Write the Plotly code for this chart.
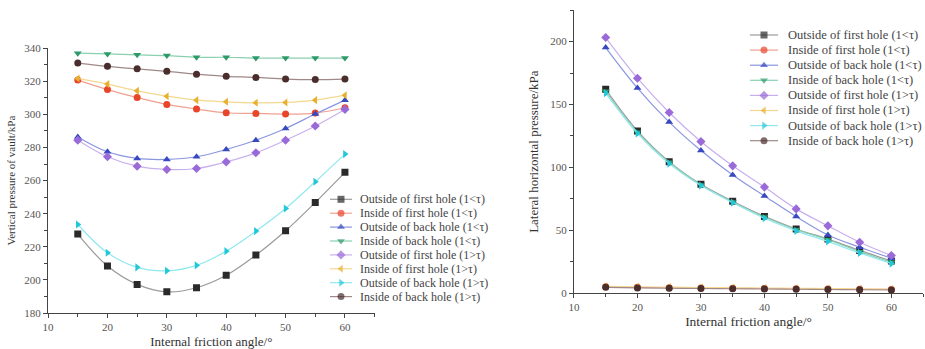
import plotly.graph_objects as go

x = [15, 20, 25, 30, 35, 40, 45, 50, 55, 60]

names = ["Outside of first hole (1<τ)", "Inside of first hole (1<τ)",
         "Outside of back hole (1<τ)", "Inside of back hole (1<τ)",
         "Outside of first hole (1>τ)", "Inside of first hole (1>τ)",
         "Outside of back hole (1>τ)", "Inside of back hole (1>τ)"]

# Left: vertical pressure of vault (kPa)
v_out_first_lt = [227.7, 208.4, 197.3, 192.8, 195.3, 202.8, 215.0, 229.7, 246.8, 265.0]
v_in_first_lt = [320.7, 315.0, 310.2, 306.0, 303.2, 301.0, 300.6, 300.2, 300.8, 304.0]
v_out_back_lt = [286.4, 277.4, 273.4, 272.8, 274.4, 278.8, 284.4, 291.5, 300.2, 308.6]
v_in_back_lt = [337.0, 336.5, 336.0, 335.5, 334.5, 334.5, 334.0, 334.0, 334.0, 334.0]
v_out_first_gt = [284.4, 274.4, 268.7, 266.7, 267.3, 271.3, 276.8, 284.4, 293.0, 303.0]
v_in_first_gt = [321.7, 318.3, 314.2, 311.0, 308.6, 307.6, 307.0, 307.2, 308.6, 311.6]
v_out_back_gt = [233.5, 216.4, 207.6, 205.5, 208.8, 217.4, 229.5, 243.2, 259.3, 276.0]
v_in_back_gt = [331.0, 329.0, 327.5, 326.0, 324.3, 323.0, 322.3, 321.3, 321.0, 321.3]

# Right: lateral horizontal pressure (kPa)
h_out_first_lt = [162.0, 129.0, 104.5, 86.5, 73.0, 61.0, 51.0, 43.0, 34.0, 25.5]
h_in_first_lt = [5.0, 4.6, 4.3, 4.1, 3.9, 3.7, 3.5, 3.3, 3.1, 3.0]
h_out_back_lt = [195.2, 163.0, 136.0, 113.4, 94.0, 77.3, 60.9, 46.3, 36.5, 27.8]
h_in_back_lt = [160.5, 128.0, 104.0, 86.0, 72.5, 60.5, 50.5, 42.5, 33.0, 24.5]
h_out_first_gt = [203.2, 170.9, 143.6, 120.5, 101.2, 84.3, 67.0, 53.5, 40.5, 29.9]
h_in_first_gt = [5.5, 5.1, 4.8, 4.5, 4.3, 4.1, 3.9, 3.7, 3.5, 3.3]
h_out_back_gt = [159.0, 127.0, 103.0, 85.5, 72.0, 59.5, 49.5, 41.0, 32.0, 23.5]
h_in_back_gt = [4.6, 4.2, 3.9, 3.7, 3.5, 3.3, 3.1, 2.9, 2.7, 2.5]

left_series = [v_out_first_lt, v_in_first_lt, v_out_back_lt, v_in_back_lt,
               v_out_first_gt, v_in_first_gt, v_out_back_gt, v_in_back_gt]
right_series = [h_out_first_lt, h_in_first_lt, h_out_back_lt, h_in_back_lt,
                h_out_first_gt, h_in_first_gt, h_out_back_gt, h_in_back_gt]

colors = ["#2a2a2a", "#e8452a", "#3848c0", "#2e9a6a",
          "#9a6ad8", "#e8b030", "#22c8d8", "#4a2e2e"]
line_colors = ["#9a9a9a", "#f0a090", "#8a96e0", "#8ad0b0",
               "#c8b0ee", "#f4d890", "#90e8f0", "#a08888"]
symbols = ["square", "circle", "triangle-up", "triangle-down",
           "diamond", "triangle-left", "triangle-right", "circle"]

FONT = "Liberation Serif, Times New Roman, serif"
W, H = 925, 349

fig = go.Figure()
for i in range(8):
    fig.add_trace(go.Scatter(
        x=x, y=left_series[i], name=names[i], mode="lines+markers",
        line=dict(color=line_colors[i], width=1.2, shape="spline"),
        marker=dict(symbol=symbols[i], size=7, color=colors[i]),
        xaxis="x", yaxis="y", showlegend=False))
for i in range(8):
    fig.add_trace(go.Scatter(
        x=x, y=right_series[i], name=names[i], mode="lines+markers",
        line=dict(color=line_colors[i], width=1.2, shape="spline"),
        marker=dict(symbol=symbols[i], size=7, color=colors[i]),
        xaxis="x2", yaxis="y2", showlegend=False))

# Custom compact legends (layout in pixel space on a hidden overlay axis)
legend_specs = [
    dict(x0=330, x1=352, tx=358, y0=199.3, dy=13.9, size=12),
    dict(x0=750, x1=778, tx=786, y0=35.0, dy=15.1, size=12.5),
]
annotations = []
for spec in legend_specs:
    for i in range(8):
        yy = spec["y0"] + spec["dy"] * i
        xm = (spec["x0"] + spec["x1"]) / 2
        fig.add_trace(go.Scatter(
            x=[spec["x0"], xm, spec["x1"]], y=[yy, yy, yy], mode="lines+markers",
            line=dict(color=line_colors[i], width=1.2),
            marker=dict(symbol=symbols[i], size=[0, 7, 0], color=colors[i], line=dict(width=0)),
            xaxis="x3", yaxis="y3", showlegend=False, hoverinfo="skip"))
        annotations.append(dict(
            x=spec["tx"] / W, y=1 - yy / H, xref="paper", yref="paper",
            text=names[i], showarrow=False, xanchor="left", yanchor="middle",
            font=dict(family=FONT, size=spec["size"], color="#444")))

axis_common = dict(showline=True, linecolor="#444", linewidth=1.2,
                   ticks="outside", ticklen=4, tickcolor="#444",
                   showgrid=False, zeroline=False, automargin=False,
                   tickfont=dict(family=FONT, size=11, color="#555"))

fig.update_layout(
    width=W, height=H,
    margin=dict(l=0, r=0, t=0, b=0),
    paper_bgcolor="white", plot_bgcolor="rgba(0,0,0,0)",
    font=dict(family=FONT, color="#333"),
    showlegend=False,
    annotations=annotations,
    xaxis=dict(domain=[0.052, 0.405], range=[10, 65], tick0=10, dtick=10,
               minor=dict(ticks="outside", dtick=5, ticklen=3, tickcolor="#444"),
               title=dict(text="Internal friction angle/°", font=dict(family=FONT, size=13, color="#333"), standoff=4),
               anchor="y", **axis_common),
    yaxis=dict(domain=[0.103, 0.862], range=[180, 340], tick0=180, dtick=20,
               minor=dict(ticks="outside", dtick=10, ticklen=3, tickcolor="#444"),
               title=dict(text="Vertical pressure of vault/kPa", font=dict(family=FONT, size=11, color="#333"), standoff=6),
               anchor="x", **axis_common),
    xaxis2=dict(domain=[0.6205, 0.998], range=[10, 65], tick0=10, dtick=10,
                minor=dict(ticks="outside", dtick=5, ticklen=3, tickcolor="#444"),
                title=dict(text="Internal friction angle/°", font=dict(family=FONT, size=13.5, color="#333"), standoff=4),
                anchor="y2", **axis_common),
    yaxis2=dict(domain=[0.16, 0.971], range=[0, 225], tick0=0, dtick=50,
                minor=dict(ticks="outside", dtick=25, ticklen=3, tickcolor="#444"),
                title=dict(text="Lateral horizontal pressure/kPa", font=dict(family=FONT, size=13, color="#333"), standoff=8),
                anchor="x2", **axis_common),
    xaxis3=dict(domain=[0, 1], range=[0, W], visible=False, fixedrange=True, anchor="y3"),
    yaxis3=dict(domain=[0, 1], range=[H, 0], visible=False, fixedrange=True, anchor="x3"),
)

fig.write_html("out.html")
